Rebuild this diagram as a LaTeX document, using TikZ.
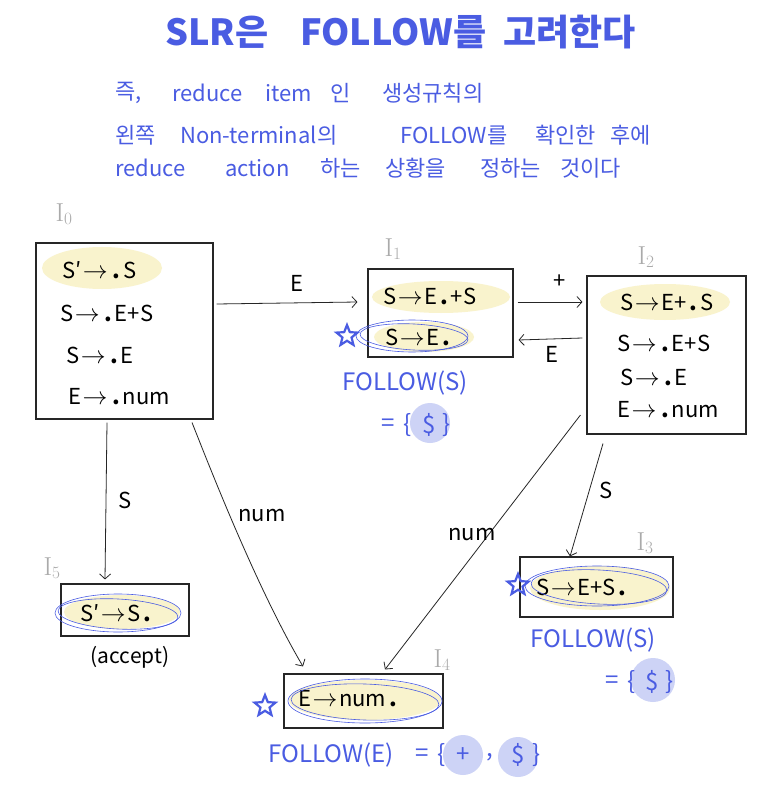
\documentclass[tikz,border=0pt]{standalone}
\usepackage{fontspec}
\newfontfamily\kr{Noto Sans CJK KR}
\usetikzlibrary{arrows.meta,shapes.geometric}
\definecolor{hblue}{RGB}{74,92,226}
\definecolor{hyel}{RGB}{249,243,205}
\definecolor{hcirc}{RGB}{205,211,246}
\definecolor{lgray}{RGB}{170,170,170}
\newcommand\myarr{\kern1.5pt{\fontsize{30}{30}\selectfont$\rightarrow$}\kern1.5pt}
\newcommand\mydot{\kern3pt\textbf{.}\kern3pt}
\begin{document}
\begin{tikzpicture}[x=1pt,y=-1pt,
  box/.style={draw=black!85, line width=1.1pt, inner sep=0pt},
  item/.style={font=\kr\fontsize{22}{22}\selectfont, inner sep=0pt, anchor=west},
  lab/.style={font=\kr\fontsize{22}{22}\selectfont, inner sep=0pt},
  setlab/.style={font=\fontsize{26}{26}\selectfont, text=lgray, inner sep=0pt},
  title/.style={font=\kr\bfseries\fontsize{36}{36}\selectfont, text=hblue, inner sep=0pt, anchor=west},
  body/.style={font=\kr\fontsize{22}{22}\selectfont, text=hblue, inner sep=0pt, anchor=west},
  foll/.style={font=\kr\fontsize{24}{24}\selectfont, text=hblue, inner sep=0pt, anchor=west},
  fch/.style={font=\kr\fontsize{24}{24}\selectfont, text=hblue, inner sep=0pt},
  arr/.style={-{Straight Barb[length=5pt,width=11pt]}, line width=0.8pt, black!85},
  hl/.style={fill=hyel},
  ring/.style={draw=hblue, line width=0.6pt},
  starmark/.style={star, star points=5, star point ratio=2.3, draw=hblue, line width=2.2pt, minimum size=22pt, inner sep=0pt}]
\useasboundingbox (0,0) rectangle (774,791);
\fill[white] (0,0) rectangle (774,791);

% title and explanation
\node[title] (t1) at (165,32) {SLR은};
\node[title] (t2) at (300,32) {FOLLOW를};
\node[title] (t3) at (503,32) {고려한다};

\node[body] (a1) at (115,93) {즉,};
\node[body] (a2) at (172,93) {reduce};
\node[body] (a3) at (265,93) {item};
\node[body] (a4) at (330,93) {인};
\node[body] (a5) at (382,93) {생성규칙의};

\node[body] (b1) at (115,135) {왼쪽};
\node[body] (b2) at (180,135) {Non-terminal의};
\node[body] (b3) at (400,135) {FOLLOW를};
\node[body] (b4) at (535,135) {확인한};
\node[body] (b5) at (610,135) {후에};

\node[body] (c1) at (115,168) {reduce};
\node[body] (c2) at (225,168) {action};
\node[body] (c3) at (320,168) {하는};
\node[body] (c4) at (385,168) {상황을};
\node[body] (c5) at (480,168) {정하는};
\node[body] (c6) at (560,168) {것이다};

% highlights
\fill[hl] (102,268) ellipse [x radius=60pt, y radius=21pt];
\fill[hl] (441,297) ellipse [x radius=69pt, y radius=16pt];
\fill[hl] (424,337) ellipse [x radius=50pt, y radius=15pt];
\fill[hl] (665,302) ellipse [x radius=65pt, y radius=18pt];
\fill[hl] (600,588) ellipse [x radius=70pt, y radius=22pt];
\fill[hl] (365,700) ellipse [x radius=76pt, y radius=20pt];
\fill[hl] (122,612) ellipse [x radius=58pt, y radius=17pt];

% FOLLOW circles
\fill[hcirc] (430,423) circle [radius=20pt];
\fill[hcirc] (653,680) circle [radius=22pt];
\fill[hcirc] (463,755) circle [radius=20pt];
\fill[hcirc] (518,757) circle [radius=20pt];

% boxes
\node[box, minimum width=177pt, minimum height=176pt] (I0) at (124.5,331) {};
\node[box, minimum width=145pt, minimum height=88pt] (I1) at (440.5,313) {};
\node[box, minimum width=159pt, minimum height=158pt] (I2) at (666.5,355) {};
\node[box, minimum width=153pt, minimum height=60pt] (I3) at (596.5,587) {};
\node[box, minimum width=159pt, minimum height=54pt] (I4) at (363.5,701) {};
\node[box, minimum width=128pt, minimum height=52pt] (I5) at (125,610) {};

% set labels
\node[setlab] (L0) at (64,214) {$\mathrm{I}_0$};
\node[setlab] (L1) at (393,249) {$\mathrm{I}_1$};
\node[setlab] (L2) at (646,257) {$\mathrm{I}_2$};
\node[setlab] (L3) at (645,543) {$\mathrm{I}_3$};
\node[setlab] (L4) at (442,660) {$\mathrm{I}_4$};
\node[setlab] (L5) at (52,568) {$\mathrm{I}_5$};

% items
\node[item] (i01) at (62,270) {S′\myarr\mydot S};
\node[item] (i02) at (60,313) {S\myarr\mydot E+S};
\node[item] (i03) at (66,355) {S\myarr\mydot E};
\node[item] (i04) at (68,397) {E\myarr\mydot num};

\node[item] (i11) at (383,296) {S\myarr E\mydot +S};
\node[item] (i12) at (385,337) {S\myarr E\mydot};

\node[item] (i21) at (620,302) {S\myarr E+\mydot S};
\node[item] (i22) at (617,343) {S\myarr\mydot E+S};
\node[item] (i23) at (620,377) {S\myarr\mydot E};
\node[item] (i24) at (617,410) {E\myarr\mydot num};

\node[item] (i31) at (536,587) {S\myarr E+S\mydot};
\node[item] (i41) at (298,699) {E\myarr num\mydot};
\node[item] (i51) at (80,613) {S′\myarr S\mydot};

\node[lab, font=\kr\fontsize{21}{21}\selectfont] (acc) at (130,657) {(accept)};

% rings
\draw[ring] (412,336) ellipse [x radius=56pt, y radius=16pt];
\draw[ring, rotate around={-3:(414,337)}] (414,337) ellipse [x radius=54pt, y radius=13pt];
\draw[ring] (597,586) ellipse [x radius=72pt, y radius=20pt];
\draw[ring, rotate around={-3:(599,587)}] (599,587) ellipse [x radius=68pt, y radius=17pt];
\draw[ring] (365,701) ellipse [x radius=77pt, y radius=22pt];
\draw[ring, rotate around={-2:(365,702)}] (365,702) ellipse [x radius=74pt, y radius=18pt];
\draw[ring] (118,613) ellipse [x radius=63pt, y radius=19pt];
\draw[ring, rotate around={-3:(118,614)}] (118,614) ellipse [x radius=60pt, y radius=15pt];

% stars
\node[starmark] (s1) at (347,336) {};
\node[starmark] (s3) at (518,585) {};
\node[starmark] (s4) at (265,706) {};

% FOLLOW sets
\node[foll] (f1a) at (342,383) {FOLLOW(S)};
\node[fch] (f1e) at (388,425) {=};
\node[fch] (f1l) at (408,425) {\{};
\node[fch] (f1d) at (429,425) {\$};
\node[fch] (f1r) at (447,425) {\}};
\node[foll] (f3a) at (530,640) {FOLLOW(S)};
\node[fch] (f3e) at (612,682) {=};
\node[fch] (f3l) at (632,682) {\{};
\node[fch] (f3d) at (652,682) {\$};
\node[fch] (f3r) at (670,682) {\}};
\node[foll] (f4a) at (268,755) {FOLLOW(E)};
\node[fch] (f4e) at (422,755) {=};
\node[fch] (f4l) at (442,755) {\{};
\node[fch] (f4p) at (463,755) {+};
\node[fch] (f4c) at (490,757) {,};
\node[fch] (f4d) at (518,755) {\$};
\node[fch] (f4r) at (537,755) {\}};

% transitions
\draw[arr] ([xshift=3pt,yshift=27pt]I0.east) -- ([xshift=-10pt,yshift=11pt]I1.west);
\node[lab] (e1) at (297,283) {E};
\draw[arr] ([xshift=4pt,yshift=11pt]I1.east) -- ([xshift=-4pt,yshift=53pt]I2.west);
\node[lab] (e2) at (560,282) {+};
\draw[arr] ([xshift=-4pt,yshift=17pt]I2.west) -- ([xshift=5pt,yshift=-27pt]I1.east);
\node[lab] (e3) at (552,354) {E};
\draw[arr] ([xshift=-17.5pt,yshift=-3pt]I0.south) -- ([xshift=-20pt,yshift=4pt]I5.north);
\node[lab] (e4) at (125,500) {S};
\draw[arr] ([xshift=67.5pt,yshift=-3pt]I0.south) .. controls (207,460) and (255,585) .. ([xshift=-60.5pt,yshift=7pt]I4.north);
\node[lab] (e5) at (262,516) {num};
\draw[arr] ([xshift=-6pt,yshift=-60pt]I2.west) -- ([xshift=21.5pt,yshift=4pt]I4.north);
\node[lab] (e6) at (472,535) {num};
\draw[arr] ([xshift=-63.5pt,yshift=-9pt]I2.south) -- ([xshift=-26.5pt]I3.north);
\node[lab] (e7) at (606,490) {S};
\end{tikzpicture}
\end{document}
